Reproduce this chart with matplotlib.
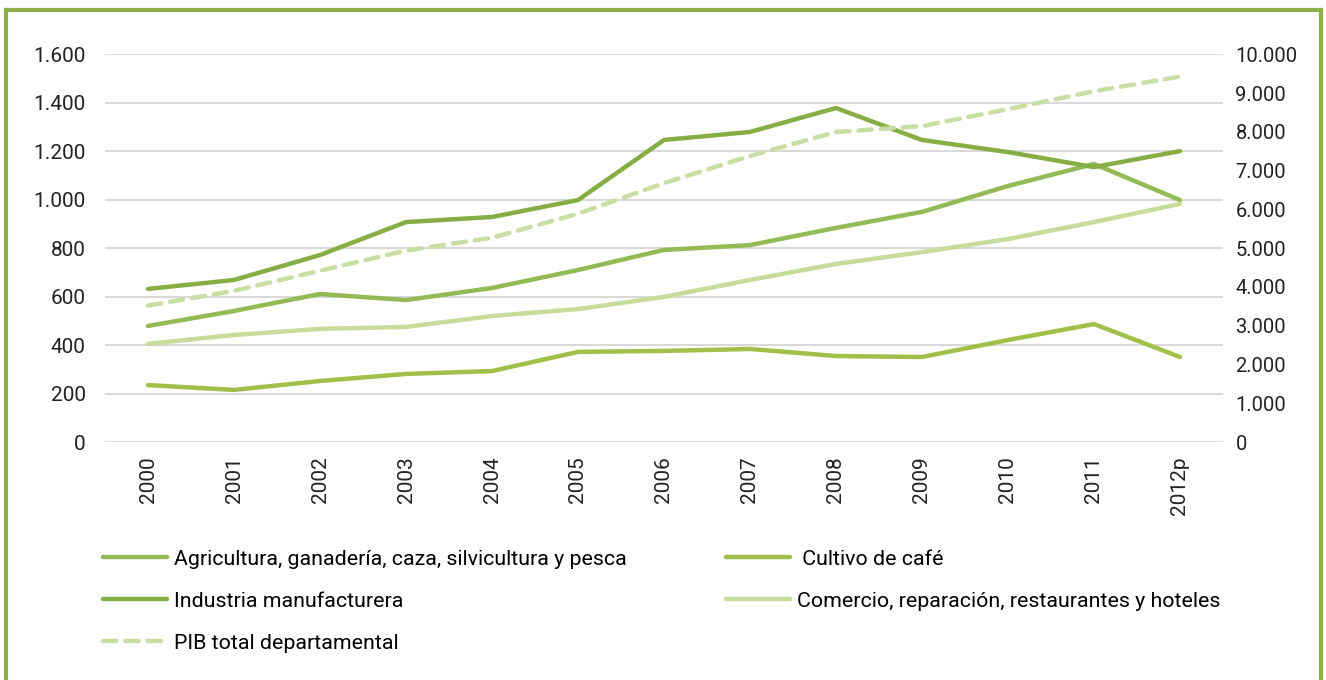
import numpy as np
import matplotlib.pyplot as plt
from matplotlib.lines import Line2D

plt.rcParams['font.family'] = ['Roboto', 'DejaVu Sans']

years = ['2000', '2001', '2002', '2003', '2004', '2005', '2006',
         '2007', '2008', '2009', '2010', '2011', '2012p']
agricultura = [479, 541, 611, 586, 636, 710, 793, 813, 884, 950, 1057, 1148, 999]
cafe = [235, 215, 252, 281, 293, 372, 376, 384, 355, 351, 421, 487, 351]
industria = [632, 669, 772, 908, 929, 999, 1247, 1280, 1379, 1247, 1197, 1135, 1201]
comercio = [405, 442, 467, 475, 520, 549, 599, 669, 735, 784, 838, 908, 983]
pib = [3520, 3900, 4420, 4940, 5270, 5890, 6680, 7380, 8000, 8150, 8590, 9050, 9430]

labels = ['Agricultura, ganadería, caza, silvicultura y pesca',
          ' Cultivo de café',
          'Industria manufacturera',
          'Comercio, reparación, restaurantes y hoteles',
          'PIB total departamental']

def fmt(v):
    return '{:,.0f}'.format(v).replace(',', '.')

fig = plt.figure(figsize=(13.26, 6.8), dpi=100)
ax = fig.add_axes([0.0792, 0.35, 0.8431, 0.5699])
ax2 = ax.twinx()

x = np.arange(len(years))
lw = 3.2
l_agr, = ax.plot(x, agricultura, color='#93BA55', lw=lw, solid_capstyle='round')
l_caf, = ax.plot(x, cafe, color='#A0C04A', lw=lw, solid_capstyle='round')
l_ind, = ax.plot(x, industria, color='#87AE44', lw=lw, solid_capstyle='round')
l_com, = ax.plot(x, comercio, color='#C8DB9A', lw=lw, solid_capstyle='round')
l_pib, = ax2.plot(x, pib, color='#CADDA3', lw=lw, ls=(0, (3, 2)), dash_capstyle='round')

ax.set_xlim(-0.5, len(years) - 0.5)
ax.set_ylim(0, 1600)
ax2.set_ylim(0, 10000)
ax.set_yticks(np.arange(0, 1601, 200))
ax2.set_yticks(np.arange(0, 10001, 1000))
ax.set_yticklabels([fmt(v) for v in np.arange(0, 1601, 200)], fontsize=15)
ax2.set_yticklabels([fmt(v) for v in np.arange(0, 10001, 1000)], fontsize=14.5)
ax.set_xticks(x)
ax.set_xticklabels(years, rotation=90, fontsize=15)
ax.grid(axis='y', color='#D9D9D9', lw=1.5)
ax.set_axisbelow(True)
for a in (ax, ax2):
    for s in a.spines.values():
        s.set_visible(False)
    a.tick_params(length=0, colors='#222222')
ax.tick_params(axis='y', pad=14)
ax2.tick_params(axis='y', pad=9)
ax.tick_params(axis='x', pad=10)

handles = [l_agr, l_ind, l_pib, l_caf, l_com]
hl = [labels[0], labels[2], labels[4], labels[1], labels[3]]
fig.legend(handles, hl, ncol=2, loc='upper left', bbox_to_anchor=(0.063, 0.22),
           frameon=False, fontsize=15.4, handlelength=3.0, handletextpad=0.35,
           labelspacing=1.08, columnspacing=4.6)

# green frame around the chart
fc = '#8DB04A'
fig.add_artist(Line2D([0.0045, 0.9965], [0.985, 0.985], color=fc, lw=3, transform=fig.transFigure))
fig.add_artist(Line2D([0.0045, 0.0045], [0.0, 0.985], color=fc, lw=3, transform=fig.transFigure))
fig.add_artist(Line2D([0.9965, 0.9965], [0.0, 0.985], color=fc, lw=3, transform=fig.transFigure))

fig.savefig('out.png', dpi=100)
